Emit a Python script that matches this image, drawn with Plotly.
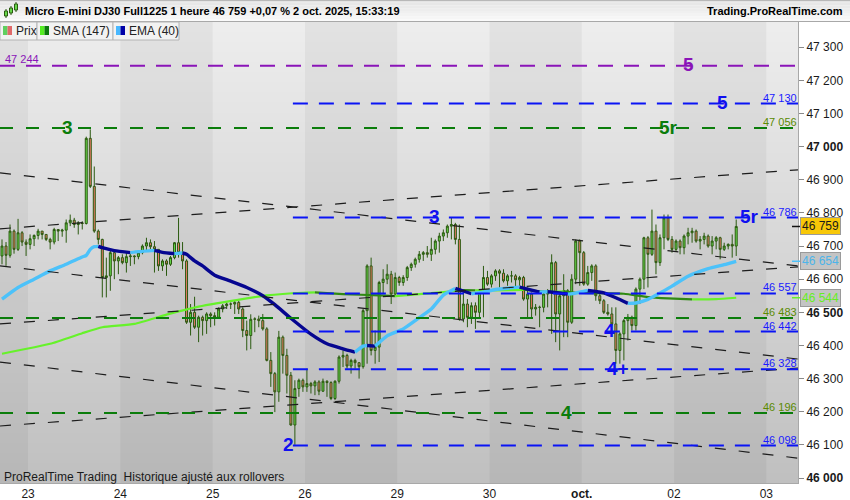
import plotly.graph_objects as go

# ---------------- data ----------------
day_ticks = [6.5, 29.5, 52.5, 75.5, 98.5, 121.5, 144.5, 167.5, 190.5]
day_labels = ["23", "24", "25", "26", "29", "30", "<b>oct.</b>", "02", "03"]
dark_days = [(-0.5, 6.5), (29.5, 52.5), (75.5, 98.5), (121.5, 144.5), (167.5, 190.5)]

open_ = [
46670,46700,46672,46745,46690,46740,46712,46705,46722,46732,
46745,46735,46720,46712,46750,46745,46748,46770,46778,46765,
46770,46768,47025,46880,46745,46720,46605,46610,46680,46655,
46665,46650,46668,46670,46668,46680,46700,46710,46698,46690,
46640,46655,46645,46665,46710,46680,46655,46470,46500,46455,
46485,46475,46495,46490,46485,46510,46520,46525,46525,46530,
46510,46445,46430,46479,46480,46475,46450,46355,46315,46260,
46425,46370,46310,46160,46270,46295,46275,46285,46278,46290,
46262,46292,46288,46240,46292,46365,46370,46338,46355,46348,
46336,46505,46640,46385,46395,46590,46600,46615,46555,46605,
46590,46605,46635,46645,46660,46675,46680,46675,46690,46715,
46730,46740,46760,46765,46720,46480,46525,46485,46520,46500,
46560,46605,46585,46610,46625,46618,46595,46610,46610,46598,
46605,46540,46555,46510,46515,46515,46555,46560,46650,46495,
46550,46565,46470,46600,46715,46680,46585,46620,46640,46550,
46535,46500,46495,46465,46385,46435,46475,46485,46460,46570,
46600,46725,46675,46745,46650,46725,46785,46720,46690,46715,
46695,46730,46740,46745,46715,46720,46730,46700,46715,46725,
46690,46700,46705,46700]

high = [
46720,46712,46765,46750,46782,46745,46720,46735,46735,46752,
46745,46735,46725,46755,46750,46752,46780,46795,46785,46775,
46775,47030,47052,46940,46750,46722,46665,46685,46690,46670,
46675,46680,46677,46672,46685,46705,46725,46720,46715,46690,
46660,46660,46670,46712,46785,46712,46660,46525,46547,46490,
46490,46500,46500,46500,46515,46525,46530,46530,46535,46535,
46515,46475,46494,46485,46490,46495,46455,46380,46320,46444,
46430,46390,46320,46295,46300,46300,46330,46290,46295,46295,
46300,46295,46292,46295,46370,46385,46375,46360,46360,46350,
46510,46645,46665,46445,46595,46630,46645,46625,46620,46610,
46612,46640,46650,46665,46685,46685,46700,46725,46720,46740,
46750,46765,46785,46770,46765,46570,46540,46530,46530,46565,
46640,46625,46615,46630,46630,46630,46615,46625,46615,46610,
46610,46575,46560,46525,46520,46565,46570,46675,46655,46560,
46615,46570,46615,46720,46720,46685,46640,46645,46645,46565,
46540,46525,46515,46515,46440,46480,46495,46490,46575,46605,
46728,46730,46810,46765,46735,46795,46795,46730,46720,46720,
46735,46755,46755,46750,46730,46740,46735,46730,46730,46728,
46710,46708,46735,46780]

low = [
46645,46640,46665,46677,46685,46700,46670,46690,46700,46720,
46720,46715,46690,46705,46715,46728,46710,46760,46755,46735,
46750,46765,46875,46740,46705,46545,46545,46565,46600,46615,
46645,46620,46640,46645,46660,46675,46685,46690,46620,46625,
46625,46610,46640,46660,46665,46630,46465,46430,46450,46410,
46430,46435,46455,46460,46480,46500,46510,46510,46495,46495,
46425,46385,46389,46440,46455,46445,46352,46275,46199,46230,
46315,46255,46158,46100,46245,46260,46260,46255,46250,46250,
46260,46245,46235,46235,46285,46335,46330,46315,46330,46300,
46330,46345,46370,46345,46350,46555,46585,46525,46550,46580,
46580,46595,46625,46635,46650,46655,46665,46655,46675,46680,
46715,46725,46720,46705,46475,46470,46455,46465,46450,46480,
46485,46580,46575,46595,46575,46590,46580,46590,46565,46580,
46535,46485,46485,46490,46455,46500,46515,46435,46410,46385,
46425,46425,46465,46585,46580,46580,46580,46595,46535,46525,
46495,46490,46460,46345,46345,46355,46415,46445,46445,46525,
46570,46575,46670,46615,46640,46690,46715,46680,46685,46675,
46675,46705,46710,46710,46690,46705,46695,46675,46690,46660,
46685,46690,46665,46670]

close = [
46700,46672,46745,46690,46740,46712,46705,46722,46732,46745,
46735,46720,46712,46750,46745,46748,46770,46778,46765,46770,
46768,47025,46880,46745,46720,46605,46610,46680,46655,46665,
46650,46668,46670,46668,46680,46700,46710,46698,46690,46640,
46655,46645,46665,46710,46680,46655,46470,46500,46455,46485,
46475,46495,46490,46485,46510,46520,46525,46525,46530,46510,
46445,46430,46479,46480,46475,46450,46355,46315,46260,46425,
46370,46310,46160,46270,46295,46275,46285,46278,46290,46262,
46292,46288,46240,46292,46365,46370,46338,46355,46348,46336,
46505,46640,46385,46395,46590,46600,46615,46555,46605,46590,
46605,46635,46645,46660,46675,46680,46675,46690,46715,46730,
46740,46760,46765,46720,46480,46525,46485,46520,46500,46560,
46605,46585,46610,46625,46618,46595,46610,46610,46598,46605,
46540,46555,46510,46515,46515,46555,46560,46650,46495,46550,
46565,46470,46600,46715,46680,46585,46620,46640,46550,46535,
46500,46495,46465,46385,46435,46475,46485,46460,46570,46600,
46725,46675,46745,46650,46725,46785,46720,46690,46715,46695,
46730,46740,46745,46715,46720,46730,46700,46715,46725,46690,
46700,46705,46700,46759]

ema_idx = [0, 4, 8, 12, 16, 20, 21, 22, 23, 24, 25, 28, 32, 34, 38, 40, 43, 45, 46, 48,
           50, 53, 57, 61, 65, 68, 72, 77, 81, 85, 88, 90, 91, 93, 96, 100, 104, 107, 110, 113,
           117, 120, 123, 129, 134, 136, 138, 141, 143, 146, 150, 153, 156, 158, 161, 164, 167,
           171, 176, 180, 183]
ema_val = [46540, 46575, 46600, 46625, 46645, 46667, 46672, 46690, 46698, 46699, 46695, 46686,
           46680, 46683, 46687, 46681, 46677, 46679, 46675, 46655, 46640, 46612, 46594, 46575,
           46550, 46523, 46482, 46434, 46405, 46390, 46380, 46398, 46400, 46398, 46429, 46450,
           46484, 46510, 46552, 46572, 46556, 46561, 46569, 46576, 46561, 46562, 46560, 46555,
           46558, 46566, 46559, 46544, 46527, 46528, 46539, 46558, 46579, 46609, 46632, 46644,
           46654]

sma_idx = [0, 12, 20, 25, 33, 41, 49, 61, 66, 75, 78, 85, 94, 98, 110, 115, 118, 122, 130,
           136, 140, 143, 148, 155, 161, 166, 172, 178, 183]
sma_val = [46375, 46405, 46437, 46455, 46465, 46493, 46517, 46542, 46551, 46559, 46560, 46555,
           46551, 46549, 46561, 46567, 46566, 46566, 46568, 46561, 46563, 46559, 46558, 46556,
           46546, 46542, 46539, 46540, 46544]

# horizontal levels: value, colour, start index
level_vals = [47244, 47130, 47056, 46786, 46557, 46483, 46442, 46328, 46196, 46098]
level_kind = ["purple", "blue", "green", "blue", "blue", "green", "blue", "blue", "green", "blue"]
level_start = [-0.5, 72.5, -0.5, 72.5, 72.5, -0.5, 72.5, 72.5, -0.5, 72.5]

# wave labels: text, kind, index, level
wave_text = ["3", "5", "5", "5r", "3", "5r", "2", "4", "4+", "4"]
wave_kind = ["green", "purple", "blue", "green", "blue", "blue", "blue", "blue", "blue", "green"]
wave_x = [16.2, 171.0, 179.7, 166.0, 107.9, 186.4, 71.3, 151.5, 153.5, 140.8]
wave_y = [47056, 47244, 47130, 47056, 46786, 46786, 46098, 46442, 46328, 46196]

# trend lines (black dashed): start/end index and price
trend_x0 = [-0.5, -0.5, -0.5, -0.5, -0.5, -0.5]
trend_x1 = [198.4, 198.4, 198.4, 198.4, 198.4, 198.4]
trend_y0 = [46921, 46752, 46640, 46465, 46350, 46157]
trend_y1 = [46640, 46930, 46359, 46637, 46060, 46332]

last_price = 46759
ema_last = 46654
sma_last = 46544

title_text = "Micro E-mini DJ30 Full1225 1 heure 46 759 +0,07 % 2 oct. 2025, 15:33:19"

# ---------------- styles ----------------
FONT = "Liberation Sans, Arial, sans-serif"
COL = {"blue": "#0a14f5", "green": "#0b7d0b", "purple": "#8a14b8"}
LBL = {"blue": "#1a1aff", "green": "#5a8a00", "purple": "#8a14b8"}
DASH = {"blue": "15px,11px", "green": "13px,13px", "purple": "15px,11px"}

X0, X1 = -0.5, 198.4
Y0, Y1 = 45985, 47376
PW, PH = 798, 461  # plot area px
TOP = 22


def py(p):  # pixel-from-top -> paper y
    return (TOP + PH - p) / PH


def pxx(p):
    return p / PW


fig = go.Figure()

idx = list(range(len(close)))
fig.add_trace(go.Candlestick(
    x=idx, open=open_, high=high, low=low, close=close,
    increasing=dict(line=dict(color="#2b5a10", width=1), fillcolor="#66d84a"),
    decreasing=dict(line=dict(color="#2b5a10", width=1), fillcolor="#eb7a66"),
    whiskerwidth=0, hoverinfo="skip", showlegend=False))


def two_colour(xs, vs, up, down, width):
    runs = []
    cur = None
    for k in range(len(xs) - 1):
        col = up if vs[k + 1] >= vs[k] else down
        if cur is None or cur[0] != col:
            cur = [col, [xs[k]], [vs[k]]]
            runs.append(cur)
        cur[1].append(xs[k + 1])
        cur[2].append(vs[k + 1])
    for col, rx, rv in runs:
        fig.add_trace(go.Scatter(x=rx, y=rv, mode="lines",
                                 line=dict(color=col, width=width, shape="spline", smoothing=0.5),
                                 hoverinfo="skip", showlegend=False))


two_colour(sma_idx, sma_val, "#66f22a", "#2f8a12", 2.2)
two_colour(ema_idx, ema_val, "#4cc2fa", "#060690", 3.4)

shapes = []
# background gradient
n = 46
for k in range(n):
    t = (k + 0.5) / n
    c = int(192 + t * (238 - 192))
    shapes.append(dict(type="rect", xref="paper", yref="paper", x0=0, x1=1,
                       y0=k / n, y1=(k + 1) / n + 0.002, line=dict(width=0),
                       fillcolor=f"rgb({c},{c},{c})", layer="below"))
for a, b in dark_days:
    shapes.append(dict(type="rect", xref="x", yref="paper", x0=a, x1=b, y0=0, y1=1,
                       line=dict(width=0), fillcolor="rgba(0,0,0,0.045)", layer="below"))

# trend lines
for a, b, c0, c1 in zip(trend_x0, trend_x1, trend_y0, trend_y1):
    shapes.append(dict(type="line", xref="x", yref="y", x0=a, x1=b, y0=c0, y1=c1,
                       line=dict(color="#1c1c1c", width=1.2, dash="11px,13px")))

# levels
for v, kd, s in zip(level_vals, level_kind, level_start):
    shapes.append(dict(type="line", xref="x", yref="y", x0=s, x1=X1, y0=v, y1=v,
                       line=dict(color=COL[kd], width=2, dash=DASH[kd])))

# title bar
nb = 8
for k in range(nb):
    c = int(250 - k * (250 - 228) / (nb - 1))
    shapes.append(dict(type="rect", xref="paper", yref="paper", x0=0, x1=850 / PW,
                       y0=py(22 - k * 22 / nb), y1=py(22 - (k + 1) * 22 / nb),
                       line=dict(width=0), fillcolor=f"rgb({c},{c},{c})"))
shapes.append(dict(type="line", xref="paper", yref="paper", x0=0, x1=850 / PW,
                   y0=py(21.5), y1=py(21.5), line=dict(color="#a8a8a8", width=1)))
shapes.append(dict(type="line", xref="paper", yref="paper", x0=0, x1=850 / PW,
                   y0=py(0.5), y1=py(0.5), line=dict(color="#b8b8b8", width=1)))
# title icon
for cx, b0, b1, w0, w1 in [(6, 11, 16, 9, 18), (11, 8, 13, 6, 15), (16, 4, 10, 2, 12)]:
    shapes.append(dict(type="line", xref="paper", yref="paper", x0=pxx(cx), x1=pxx(cx),
                       y0=py(w0), y1=py(w1), line=dict(color="#2b5a10", width=1)))
    shapes.append(dict(type="rect", xref="paper", yref="paper", x0=pxx(cx - 1.5), x1=pxx(cx + 1.5),
                       y0=py(b0), y1=py(b1), line=dict(color="#2b5a10", width=1), fillcolor="#66d84a"))

# legend tabs
tabs = [(0, 37, "Prix", "#5fcf5f", "#e06a6a"),
        (37, 113, "SMA (147)", "#55ee22", "#0b7a0b"),
        (113, 179, "EMA (40)", "#48b8ff", "#0000a8")]
for a, b, name, c1, c2 in tabs:
    shapes.append(dict(type="rect", xref="paper", yref="paper", x0=pxx(a), x1=pxx(b),
                       y0=py(40), y1=py(22), line=dict(color="#b4b4b4", width=1), fillcolor="#f2f2f2"))
    shapes.append(dict(type="rect", xref="paper", yref="paper", x0=pxx(a + 3), x1=pxx(a + 7.5),
                       y0=py(35), y1=py(26), line=dict(width=0), fillcolor=c1))
    shapes.append(dict(type="rect", xref="paper", yref="paper", x0=pxx(a + 7.5), x1=pxx(a + 12),
                       y0=py(35), y1=py(26), line=dict(width=0), fillcolor=c2))

# right-axis marker ticks
for v, col in [(last_price, "#111111"), (ema_last, "#4cc2fa"), (sma_last, "#66f22a")]:
    shapes.append(dict(type="line", xref="paper", yref="y", x0=pxx(792), x1=pxx(801),
                       y0=v, y1=v, line=dict(color=col, width=1.5)))

ann = []
ann.append(dict(text=f"<b>{title_text}</b>", xref="paper", yref="paper", x=pxx(23), y=py(11.5),
                xanchor="left", yanchor="middle", showarrow=False,
                font=dict(family=FONT, size=11, color="#000000")))
ann.append(dict(text="<b>Trading.ProRealTime.com</b>", xref="paper", yref="paper", x=pxx(845), y=py(11.5),
                xanchor="right", yanchor="middle", showarrow=False,
                font=dict(family=FONT, size=11, color="#000000")))
for a, b, name, c1, c2 in tabs:
    ann.append(dict(text=name, xref="paper", yref="paper", x=pxx(a + 14), y=py(31),
                    xanchor="left", yanchor="middle", showarrow=False,
                    font=dict(family=FONT, size=12, color="#222222")))
ann.append(dict(text="ProRealTime Trading  Historique ajusté aux rollovers", xref="paper", yref="paper",
                x=pxx(2), y=py(476.5), xanchor="left", yanchor="middle", showarrow=False,
                font=dict(family=FONT, size=12, color="#1a1a1a")))

# level value labels
for v, kd in zip(level_vals, level_kind):
    txt = f"{v // 1000} {v % 1000:03d}"
    if kd == "purple":
        ann.append(dict(text=txt, xref="paper", yref="y", x=pxx(3), y=v, yshift=7,
                        xanchor="left", yanchor="middle", showarrow=False,
                        font=dict(family=FONT, size=11, color=LBL[kd])))
    else:
        ann.append(dict(text=txt, xref="paper", yref="y", x=pxx(780), y=v, yshift=6,
                        xanchor="center", yanchor="middle", showarrow=False,
                        font=dict(family=FONT, size=11, color=LBL[kd])))

# wave labels
for t, kd, xi, yv in zip(wave_text, wave_kind, wave_x, wave_y):
    ann.append(dict(text=f"<b>{t}</b>", xref="x", yref="y", x=xi, y=yv, yshift=1,
                    xanchor="center", yanchor="middle", showarrow=False,
                    font=dict(family=FONT, size=19, color=COL[kd] if kd != "blue" else "#1010f0")))

# price tags
for v, bg, fg in [(last_price, "#f8c808", "#1a1a1a"), (ema_last, "#c4c4c4", "#4cb4ea"),
                  (sma_last, "#c4c4c4", "#66ee22")]:
    txt = f"{v // 1000} {v % 1000:03d}"
    ann.append(dict(text=txt, xref="paper", yref="y", x=pxx(800), y=v,
                    xanchor="left", yanchor="middle", showarrow=False,
                    bgcolor=bg, bordercolor="#9a9a9a", borderwidth=1, borderpad=1,
                    font=dict(family=FONT, size=12, color=fg)))

ytv = list(range(46000, 47301, 100))
ytt = []
for v in ytv:
    s = f"{v // 1000} {v % 1000:03d}"
    ytt.append(f"<b>{s}</b>" if v % 500 == 0 else s)

fig.update_layout(
    width=850, height=500,
    margin=dict(l=0, r=52, t=22, b=17),
    paper_bgcolor="#ffffff", plot_bgcolor="#d0d0d0",
    shapes=shapes, annotations=ann,
    showlegend=False,
    xaxis=dict(range=[X0, X1], rangeslider=dict(visible=False), showgrid=False, zeroline=False,
               tickmode="array", tickvals=day_ticks, ticktext=day_labels, ticks="",
               showline=True, linecolor="#a8a8a8", linewidth=1,
               tickfont=dict(family=FONT, size=12, color="#1a1a1a")),
    yaxis=dict(range=[Y0, Y1], side="right", showgrid=False, zeroline=False,
               tickmode="array", tickvals=ytv, ticktext=ytt, ticks="outside", ticklen=5,
               tickcolor="#8a8a8a", showline=True, linecolor="#a8a8a8", linewidth=1,
               tickfont=dict(family=FONT, size=12, color="#1a1a1a")),
)

fig.write_html("out.html", config={"displayModeBar": False},
               post_script="document.body.style.margin='0';document.body.style.overflow='hidden';")
